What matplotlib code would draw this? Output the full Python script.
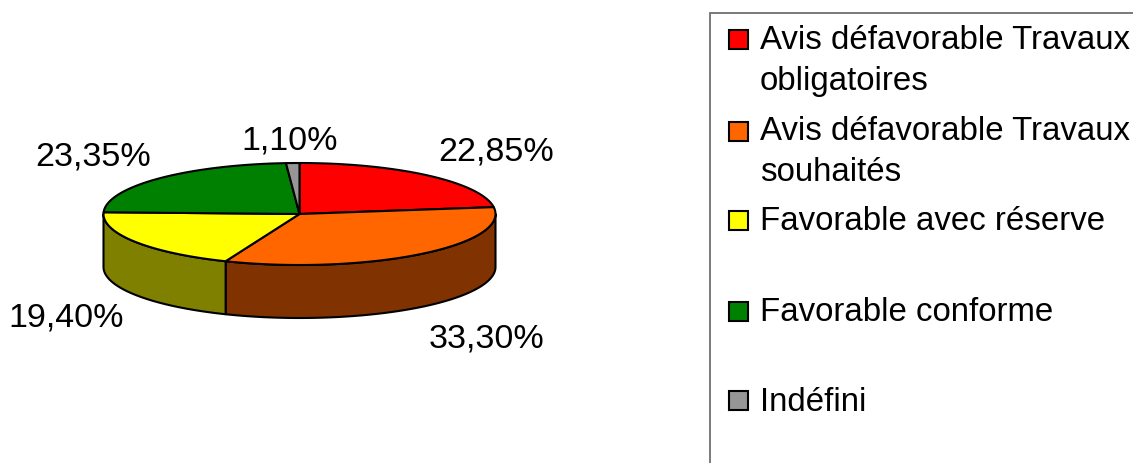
import numpy as np
import matplotlib
matplotlib.use("Agg")
import matplotlib.pyplot as plt
from matplotlib.patches import Polygon, Rectangle

categories = ["Avis défavorable Travaux\nobligatoires", "Avis défavorable Travaux\nsouhaités",
              "Favorable avec réserve", "Favorable conforme", "Indéfini"]
values = [22.85, 33.30, 19.40, 23.35, 1.10]
labels = ["22,85%", "33,30%", "19,40%", "23,35%", "1,10%"]
top_colors = ["#FF0000", "#FF6600", "#FFFF00", "#008000", "#969696"]
side_colors = ["#800000", "#803300", "#808000", "#004000", "#4B4B4B"]
label_pos = [(496, 152), (487, 339), (66, 318), (93, 157), (290, 141)]
legend_base = [90, 181, 230, 321, 411]
swatch_cy = [39.5, 131, 220, 311, 400]

W, H = 1133, 463
plt.rcParams['font.family'] = ['Liberation Sans', 'DejaVu Sans']
fig = plt.figure(figsize=(W/100, H/100), dpi=100)
ax = fig.add_axes([0, 0, 1, 1])
ax.set_xlim(0, W); ax.set_ylim(H, 0); ax.axis('off')

cx, cy, rx, ry, depth = 299.5, 214, 196, 51, 53
def pt(a):
    a = np.asarray(a)
    return cx + rx*np.sin(a), cy - ry*np.cos(a)

bounds = np.radians(np.concatenate([[0], np.cumsum(values)]) * 3.6)
lw = 1.5
# side wall, only the front half of the rim is visible
for i in range(len(values)):
    a0, a1 = max(bounds[i], np.pi/2), min(bounds[i+1], 3*np.pi/2)
    if a1 > a0:
        a = np.linspace(a0, a1, 120)
        x, y = pt(a)
        xy = np.r_[np.c_[x, y], np.c_[x, y + depth][::-1]]
        ax.add_patch(Polygon(xy, closed=True, fc=side_colors[i], ec='black', lw=lw, joinstyle='round'))
for i in range(len(values)):
    a = np.linspace(bounds[i], bounds[i+1], 200)
    x, y = pt(a)
    xy = np.r_[[[cx, cy]], np.c_[x, y]]
    ax.add_patch(Polygon(xy, closed=True, fc=top_colors[i], ec='black', lw=lw, joinstyle='round'))

for t, (x, y) in zip(labels, label_pos):
    ax.text(x, y, t, fontsize=24.5, ha='center', va='center', color='black')

ax.add_patch(Rectangle((710, 13), 460, 470, fc='white', ec='#707070', lw=1.3, clip_on=True))
for c, col, yb, sy in zip(categories, top_colors, legend_base, swatch_cy):
    ax.add_patch(Rectangle((729, sy - 9.5), 19, 19, fc=col, ec='black', lw=1.5))
    ax.text(760, yb, c, fontsize=23.8, ha='left', va='baseline', color='black', linespacing=1.42)
fig.savefig("out.png", dpi=100)
